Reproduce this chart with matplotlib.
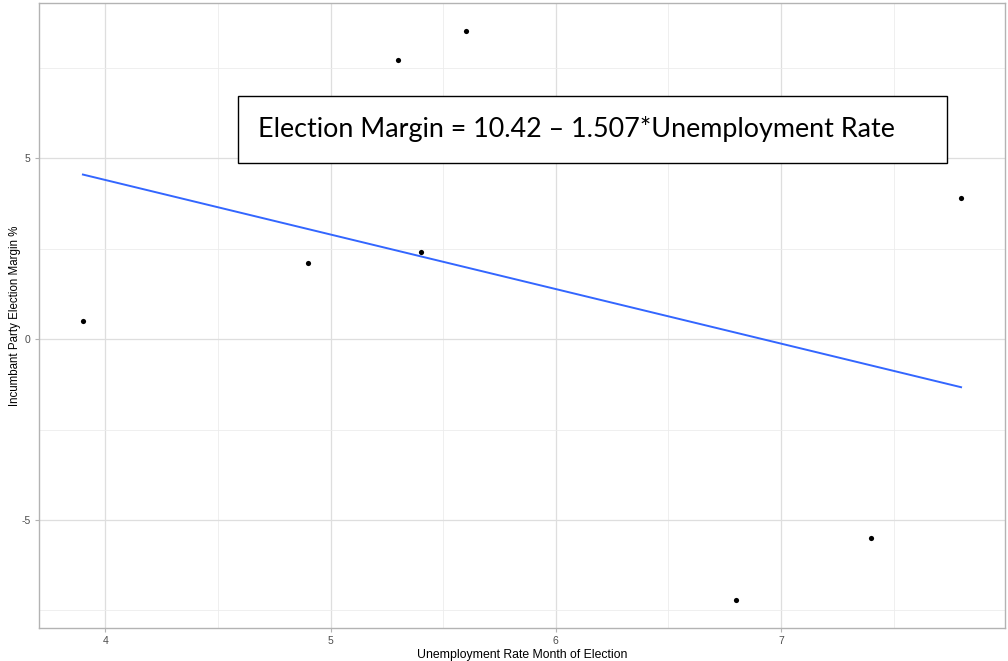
import numpy as np
import matplotlib
matplotlib.use("Agg")
import matplotlib.pyplot as plt
from matplotlib.patches import Rectangle
from matplotlib.ticker import MultipleLocator

unemployment = [3.9, 4.9, 5.3, 5.4, 5.6, 6.8, 7.4, 7.8]
margin = [0.5, 2.1, 7.7, 2.4, 8.5, -7.2, -5.5, 3.9]

x = np.array(unemployment)
y = np.array(margin)
slope, intercept = np.polyfit(x, y, 1)

plt.rcParams["axes.unicode_minus"] = False
sans = ["Liberation Sans", "DejaVu Sans"]

fig = plt.figure(figsize=(10.08, 6.61), dpi=100)
ax = fig.add_axes([0.0387, 0.0499, 0.9583, 0.9456])

# ggplot-style 5% expansion of the data range
xpad = (x.max() - x.min()) * 0.05
ypad = (y.max() - y.min()) * 0.05
ax.set_xlim(x.min() - xpad, x.max() + xpad)
ax.set_ylim(y.min() - ypad, y.max() + ypad)

ax.xaxis.set_major_locator(MultipleLocator(1))
ax.xaxis.set_minor_locator(MultipleLocator(0.5))
ax.yaxis.set_major_locator(MultipleLocator(5))
ax.yaxis.set_minor_locator(MultipleLocator(2.5))
ax.grid(which="major", color="#dedede", linewidth=0.9)
ax.grid(which="minor", color="#ececec", linewidth=0.6)
ax.set_axisbelow(True)
for s in ax.spines.values():
    s.set_color("#b3b3b3")
    s.set_linewidth(1.0)
ax.tick_params(which="major", length=3, color="#b3b3b3", labelsize=7.5,
               labelcolor="#4d4d4d", pad=3)
ax.tick_params(which="minor", length=0)
for lab in ax.get_xticklabels() + ax.get_yticklabels():
    lab.set_family(sans)

xs = np.array([x.min(), x.max()])
ax.plot(xs, intercept + slope * xs, color="#3366FF", linewidth=1.4, zorder=3)
ax.scatter(x, y, s=14, color="black", zorder=4, linewidths=0)

ax.set_xlabel("Unemployment Rate Month of Election", fontsize=8.8, family=sans)
ax.set_ylabel("Incumbant Party Election Margin %", fontsize=8.3, family=sans)
ax.xaxis.set_label_coords(0.5, -0.033)
ax.yaxis.set_label_coords(-0.019, 0.5)

ax.add_patch(Rectangle((4.588, 4.86), 3.151, 1.86, facecolor="white",
                       edgecolor="black", linewidth=1.0, zorder=5))
ax.text(4.677, 5.79,
        "Election Margin = {:.2f} \u2013 {:.3f}*Unemployment Rate".format(intercept, -slope),
        fontsize=19.4, family=["Lato", "DejaVu Sans"], va="center",
        ha="left", zorder=6)

fig.savefig("out.png", dpi=100)
